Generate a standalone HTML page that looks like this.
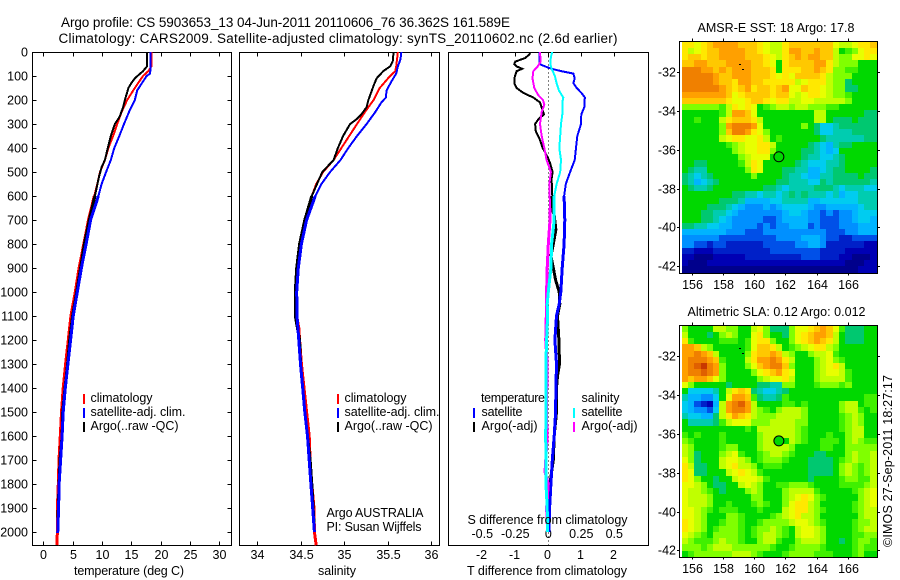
<!DOCTYPE html>
<html lang="en">
<head>
<meta charset="utf-8">
<title>Argo profile CS 5903653_13</title>
<style>
html,body{margin:0;padding:0;background:#fff;}
svg{display:block;}
text{font-family:"Liberation Sans",sans-serif;font-size:12.5px;fill:#000;}
.crisp{shape-rendering:crispEdges;}
</style>
</head>
<body>
<svg id="chart" xmlns="http://www.w3.org/2000/svg" width="900" height="580" viewBox="0 0 900 580"></svg>
<script>
// ---------- profile data (depth in dbar) ----------
const tempClimDepth = [0,60,80,100,150,200,250,300,350,400,450,500,550,600,700,800,900,1000,1100,1200,1300,1400,1500,1600,1700,1800,1900,2000,2055];
const tempClim = [18.47,18.4,17.9,17.0,15.6,14.3,13.35,12.6,11.9,11.1,10.5,9.66,9.2,8.7,7.7,6.9,6.1,5.45,4.7,4.26,3.8,3.4,3.1,2.9,2.67,2.56,2.4,2.4,2.3];
const tempSatDepth = [0,60,90,100,130,160,200,250,300,350,400,450,500,550,600,700,800,900,1000,1100,1200,1300,1400,1500,1600,1700,1800,1900,2005];
const tempSat = [18.3,18.3,18.2,17.6,16.8,16.0,15.6,14.6,13.75,12.95,12.1,11.5,10.7,9.94,9.4,8.07,7.3,6.5,5.8,5.1,4.66,4.2,3.75,3.4,3.2,2.95,2.7,2.6,2.45];
const tempArgoDepth = [0,60,80,90,110,130,150,200,230,270,300,350,400,450,480,520,600,700,800,900,1000,1100,1200,1300,1400,1500,1600,1700,1800,1900,1960];
const tempArgo = [17.7,17.67,17.0,16.5,15.6,15.0,14.5,13.9,13.6,13.0,12.2,11.5,11.0,10.5,9.94,9.5,8.8,7.84,7.0,6.36,5.7,5.0,4.5,4.15,3.7,3.3,3.2,2.84,2.7,2.56,2.5];

const salClimDepth = [0,60,80,100,150,200,250,300,350,400,450,500,550,600,700,800,900,1000,1100,1150,1200,1300,1400,1500,1600,1700,1800,1900,2000,2055];
const salClim = [35.62,35.6,35.59,35.53,35.41,35.34,35.24,35.15,35.06,34.97,34.88,34.76,34.68,34.63,34.55,34.5,34.47,34.45,34.456,34.48,34.49,34.51,34.54,34.57,34.6,34.61,34.63,34.655,34.66,34.68];
const salSatDepth = [0,30,60,90,120,160,190,210,250,300,350,400,450,500,550,600,700,800,900,1000,1100,1200,1300,1400,1500,1600,1700,1800,1900,2000];
const salSat = [35.66,35.65,35.62,35.6,35.55,35.49,35.48,35.43,35.36,35.26,35.15,35.05,34.96,34.84,34.74,34.67,34.57,34.51,34.475,34.456,34.46,34.48,34.5,34.525,34.55,34.58,34.6,34.62,34.64,34.66];
const salArgoDepth = [0,40,60,80,110,140,200,230,260,280,300,350,400,450,500,550,600,700,800,900,1000,1100,1200,1300,1400,1500,1600,1700,1800,1900,1960];
const salArgo = [35.57,35.56,35.53,35.45,35.375,35.34,35.28,35.26,35.2,35.145,35.07,34.99,34.93,34.88,34.75,34.69,34.63,34.55,34.49,34.456,34.44,34.44,34.49,34.5,34.525,34.55,34.58,34.61,34.63,34.645,34.655];

const dTSatDepth = [0,50,60,70,80,90,110,130,150,170,190,210,230,260,300,350,400,450,500,550,600,700,800,900,1000,1050,1100,1200,1300,1400,1500,1600,1700,1800,1900,2000];
const dTSat = [-0.27,-0.27,-0.1,0.1,0.4,0.76,0.8,0.76,0.86,1.0,1.11,1.09,1.09,1.0,0.99,0.88,0.84,0.8,0.66,0.53,0.48,0.5,0.48,0.42,0.38,0.33,0.25,0.2,0.25,0.23,0.22,0.18,0.12,0.08,0.04,0.02];
const dTArgoDepth = [0,10,25,40,50,60,70,80,110,130,150,170,190,210,240,260,280,300,330,360,400,430,460,500,530,600,640,680,740,800,850,900,950,1000,1050,1100,1150,1200,1300,1350,1400,1500,1600,1700,1750,1800,1900,1950];
const dTArgo = [-0.55,-0.57,-0.7,-1.0,-1.03,-0.96,-0.79,-0.96,-1.03,-1.03,-0.96,-0.76,-0.45,-0.25,-0.18,-0.13,-0.3,-0.4,-0.38,-0.27,-0.17,-0.05,0.05,0.13,0.1,0.12,0.08,0.18,0.23,0.15,0.08,0.15,0.22,0.33,0.35,0.28,0.3,0.32,0.34,0.28,0.25,0.25,0.18,0.15,0.1,0.05,0.04,0.02];
const dSSatDepth = [0,20,50,70,100,130,160,190,210,260,300,350,400,450,500,550,600,700,800,900,1000,1050,1100,1200,1300,1400,1500,1600,1700,1800,1850,1900,2000];
const dSSat = [0.03,0.02,0.015,0.025,0.05,0.063,0.08,0.114,0.106,0.106,0.096,0.09,0.083,0.096,0.09,0.063,0.045,0.045,0.025,0.02,0,-0.008,-0.005,-0.013,-0.018,-0.018,-0.018,-0.02,-0.018,-0.018,-0.013,-0.008,-0.005];
const dSArgoDepth = [0,40,60,80,110,150,180,200,220,250,300,350,400,450,500,550,650,700,800,900,1000,1050,1200,1300,1500,1600,1750,1800,1900,2000];
const dSArgo = [-0.063,-0.058,-0.08,-0.114,-0.12,-0.106,-0.076,-0.04,-0.03,-0.05,-0.063,-0.05,-0.03,-0.013,0.02,0.008,0.013,0.013,0,-0.008,-0.013,-0.013,-0.02,-0.008,-0.015,-0.008,-0.025,0,-0.013,-0.005];

// ---------- tick labels ----------
const depthTicks = [0,100,200,300,400,500,600,700,800,900,1000,1100,1200,1300,1400,1500,1600,1700,1800,1900,2000];
const tempTicks = [0,5,10,15,20,25,30];
const salTicks = [34,34.5,35,35.5,36];
const dTTicks = [-2,-1,0,1,2];
const dSTicks = [-0.5,-0.25,0,0.25,0.5];
const lonTicks = [156,158,160,162,164,166];
const latTicks = [-32,-34,-36,-38,-40,-42];

// ---------- map cells: one char per cell, index into the colour scale ----------
const levelColors = {
  '0':'#00008c','1':'#0000b4','2':'#0020c8','3':'#0050e8','4':'#0090ff','5':'#00b4ff','6':'#00ccf0',
  '7':'#00ccb0','8':'#00c870','9':'#00d800','a':'#40f000','b':'#80ff00','c':'#c0ff00','d':'#e8ff00',
  'e':'#ffe800','f':'#ffc800','g':'#ffa000','h':'#f08000','i':'#e06000','j':'#c83800'
};
const sstRows = [
"eedef ggggf ffedc cefff ffffd ccdee f",
"ecdef fgggg ffedc ceggf fgffc 9abde e",
"effef fgggg fffed cefgf ggffc bbdde d",
"ffggf ffggg gffed 9efff fggec bbb99 9",
"hhhgg fgfgg gfffe 9eeef fgfeb baa99 9",
"hhhhh gffgg gfffe dedff ffecb bb999 9",
"hhhhh gffeg gffee eeecd eeecb b8999 9",
"hhhhh hgfef geffe fgddf eedcb b8899 9",
"ggggg ggfde ffffe ffdcd eedcb ba999 9",
"fffff ffedd effed eeccd dcccc cb999 9",
"bbbbb baced ed9ab ccbcc bbbaa 99999 9",
"99999 9acgg fd999 99999 9cc99 99998 8",
"99a99 9ceff fec99 99999 9cc98 88988 8",
"99999 9bghh hgd99 9999b 98667 88888 8",
"99999 9bfhh gedb9 99999 98667 77888 8",
"99999 9cdee ddec9 a9999 99877 77778 8",
"99999 99abc ddeec 99999 87657 88999 9",
"99999 999bc ddeeb 99998 87656 99999 9",
"99999 9999b cddd9 99998 77667 89999 9",
"99889 9999a ced99 99987 66677 89999 9",
"98779 99999 bed99 98877 55678 89999 8",
"87678 99999 9b999 98776 55778 88898 8",
"87567 89999 99999 88777 66878 88888 7",
"98778 99999 99988 76777 78887 67776 6",
"99999 99988 77677 67878 77767 56677 7",
"99999 98887 55556 67777 55666 66677 7",
"99998 88765 44454 56666 54455 55567 7",
"99988 77654 44444 45665 44343 44566 6",
"99988 76544 44433 45555 44333 44566 5",
"88776 65544 44343 44555 34333 44455 5",
"55555 55444 33344 44444 44433 34455 5",
"44444 43333 33333 44445 55433 22333 3",
"44332 33222 22233 33344 55422 22221 1",
"22111 22222 22223 33333 33222 21111 1",
"11000 11111 22222 22223 33222 11000 1",
"10001 11111 11111 11111 11111 10001 1",
"00000 00000 00000 00000 00000 00011 1"
];
const slaRows = [
"b9999 ccbb9 9cdb8 88bdd efgfd a8889 9",
"c9998 9bcb9 9deb9 98bde fggfc 98889 9",
"ea999 9aaa9 adeeb 99bde fgfec 98889 9",
"ggfcb 99999 adffe c9abc deecb 99999 9",
"gghgf c9999 beffg fcb99 bccda 99999 9",
"ghhhg fa999 ceggh gec99 9bcdb a9999 9",
"ghijh gb999 bdfgh hfb99 9bcde c9999 9",
"ghhih gb999 9bdef ged99 9bcdd ca999 9",
"gfggf db999 99bcd dec99 9bccc ca999 9",
"db999 99899 99887 7bb99 9abbb ab999 9",
"96666 79cef e8766 78999 99999 99999 9",
"75544 69dgg fa877 8a999 99999 9999a a",
"65321 5cghi gc999 9aa9a 99999 bcc9a a",
"65443 6cghh gcba9 bcccb 99999 bcca9 a",
"76655 8cegf ecbbb ccccb 99999 abcb9 9",
"97777 8acdd dbbbc cccbb 99999 abcb9 9",
"99999 99999 a9ccc cccba 99999 abcc9 9",
"a9a99 9a999 99bcc cccba 999a9 9bcc9 9",
"ba999 9a999 99bcc c9cba 99aaa 9bcba a",
"cb999 9abb9 99bcc ccb99 99aa9 9bbbb b",
"cb899 9bcda 99abc cba99 98899 9bcbb c",
"db899 9cddc b9abb ba999 88889 abcbb c",
"ec889 9cdec cb9aa a9999 88889 bcbab c",
"ed889 99cde dca99 99999 88889 bcbab c",
"edb99 899cd ddca9 99999 89999 abbaa c",
"ddcb9 8899c dcb99 aabbb a9999 aaaab c",
"dccba 98999 bcb99 9bccc ca999 99abc d",
"dcccb 99999 9bb99 9bcde dba99 999bc d",
"dcccb 99a99 9aba9 9bdee cb999 99abc d",
"ddcba 9aaa9 99a99 9cdee cba99 99abc c",
"ddcb9 99bba 9999a bcdec cb999 999bc c",
"edcb9 9abba 99abb bbcdd cba99 99abb c",
"edcb9 abbba 9abbc ba9cd dcb99 99abc c",
"dcba9 bbbba 9abcc ba9cd dcb99 99aab b",
"cbaaa bcbba 99bcc a99bc ccb99 89abb a",
"bbbab cccbb bbbba 99abb bba99 99aba a",
"9abbb bbbcc cba99 9abbb baaa9 99ab9 9"
];
const profileLon = 161.589;
const profileLat = -36.362;
const trackLon = [159.0,159.2];
const trackLat = [-31.55,-31.85];
const mapLonStart = 155.36, mapLonEnd = 167.86, mapLatTop = -30.42, mapLatBottom = -42.34;

// ---------- axis functions ----------
const yDepth = p => 52 + p * 0.24;
const xTemp = v => 43.3 + v * 5.867;
const xSal = v => 257 + (v - 34) * 87;
const xDT = v => 548.3 + v * 33;
const xDS = v => 548.3 + v * 132;
const lonX = v => 691.7 + (v - 156) * 15.6;
const latY1 = v => 72.3 + (-32 - v) * 19.37;
const latY2 = v => 356.3 + (-32 - v) * 19.4;

// ---------- drawing helpers ----------
const NS = 'http://www.w3.org/2000/svg';
const svg = document.getElementById('chart');
const deepFrom = 600;
function mk(tag, parent, name) {
  const el = document.createElementNS(NS, tag);
  
  
  parent.appendChild(el);
  return el;
}
function group(name, parent) { return mk('g', parent || svg, name); }
function txt(parent, name, s, x, y, anchor, len) {
  const t = mk('text', parent, name);
  t.setAttribute('x', x);
  t.setAttribute('y', y);
  if (anchor) t.setAttribute('text-anchor', anchor);
  if (len) { t.setAttribute('textLength', len); t.setAttribute('lengthAdjust', 'spacing'); }
  t.textContent = s;
  return t;
}
function seg(parent, name, x1, y1, x2, y2, color, w) {
  const l = mk('line', parent, name);
  l.setAttribute('x1', x1); l.setAttribute('y1', y1);
  l.setAttribute('x2', x2); l.setAttribute('y2', y2);
  l.setAttribute('stroke', color || '#000');
  l.setAttribute('stroke-width', w || 1);
  l.setAttribute('class', 'crisp');
  return l;
}
function frame(parent, name, x, y, w, h) {
  const r = mk('rect', parent, name);
  r.setAttribute('x', x); r.setAttribute('y', y);
  r.setAttribute('width', w); r.setAttribute('height', h);
  r.setAttribute('fill', 'none');
  r.setAttribute('stroke', '#000');
  r.setAttribute('stroke-width', 1);
  r.setAttribute('class', 'crisp');
}
function polyFrom(parent, name, pts, color, w) {
  const pl = mk('polyline', parent, name);
  pl.setAttribute('points', pts.join(' '));
  pl.setAttribute('fill', 'none');
  pl.setAttribute('stroke', color);
  pl.setAttribute('stroke-width', w);
  pl.setAttribute('stroke-linejoin', 'miter');
  pl.setAttribute('class', 'crisp');
}
function profile(parent, name, depths, values, xFn, color) {
  const pts = depths.map((d, i) => xFn(values[i]).toFixed(1) + ',' + yDepth(d).toFixed(1));
  polyFrom(parent, name, pts, color, 2);
  // deep stretches are near-vertical staircases in the source, so they read thicker
  polyFrom(parent, name + '-deep', pts.filter((p, i) => depths[i] >= deepFrom), color, 3);
}
function legendRow(parent, name, x, y, color, label, tx, len) {
  const m = mk('rect', parent, name + '-marker');
  m.setAttribute('x', x); m.setAttribute('y', y - 8);
  m.setAttribute('width', 2); m.setAttribute('height', 10);
  m.setAttribute('fill', color);
  m.setAttribute('class', 'crisp');
  txt(parent, name + '-label', label, tx, y, null, len);
}

// ---------- titles ----------
const titles = group('figure-title');
const t1 = txt(titles, 'title-line-1', 'Argo profile: CS 5903653_13 04-Jun-2011 20110606_76 36.362S 161.589E', 61, 27, null, 449);
t1.style.fontSize = '13.5px';
const t2 = txt(titles, 'title-line-2', 'Climatology: CARS2009. Satellite-adjusted climatology: synTS_20110602.nc (2.6d earlier)', 58.5, 43, null, 559);
t2.style.fontSize = '13.5px';

const L = 32.5, T = 52.5, B = 545.5;

// ---------- panel 1: temperature ----------
const p1 = group('temperature-panel');
frame(p1, 'temperature-plot-frame', L, T, 199, B - T);
depthTicks.forEach(d => {
  const y = Math.round(yDepth(d)) + 0.5;
  if (d > 0) {
    seg(p1, 'depth-tick', L, y, L + 4, y);
    seg(p1, 'depth-tick-right', 231.5 - 4, y, 231.5, y);
  }
  txt(p1, 'depth-tick-label', String(d), 28, y + 4, 'end');
});
tempTicks.forEach(v => {
  const x = Math.round(xTemp(v)) + 0.5;
  seg(p1, 'temperature-tick-top', x, T, x, T + 4);
  seg(p1, 'temperature-tick-bottom', x, B - 4, x, B);
  txt(p1, 'temperature-tick-label', String(v), x, 559, 'middle');
});
profile(p1, 'temperature-climatology-line', tempClimDepth, tempClim, xTemp, '#ff0000');
profile(p1, 'temperature-argo-line', tempArgoDepth, tempArgo, xTemp, '#000000');
profile(p1, 'temperature-satellite-line', tempSatDepth, tempSat, xTemp, '#0000ff');
txt(p1, 'temperature-axis-title', 'temperature (deg C)', 74, 575, null, 110);
const leg1 = group('temperature-legend', p1);
legendRow(leg1, 'legend-climatology', 83, 402, '#ff0000', 'climatology', 90.5, 62);
legendRow(leg1, 'legend-satellite-adj', 83, 416, '#0000ff', 'satellite-adj. clim.', 90.5, 95);
legendRow(leg1, 'legend-argo', 83, 430, '#000000', 'Argo(..raw -QC)', 90.5, 88);

// ---------- panel 2: salinity ----------
const p2 = group('salinity-panel');
frame(p2, 'salinity-plot-frame', 239.5, T, 200, B - T);
salTicks.forEach(v => {
  const x = Math.round(xSal(v)) + 0.5;
  seg(p2, 'salinity-tick-top', x, T, x, T + 4);
  seg(p2, 'salinity-tick-bottom', x, B - 4, x, B);
  txt(p2, 'salinity-tick-label', String(v), x, 559, 'middle');
});
profile(p2, 'salinity-climatology-line', salClimDepth, salClim, xSal, '#ff0000');
profile(p2, 'salinity-argo-line', salArgoDepth, salArgo, xSal, '#000000');
profile(p2, 'salinity-satellite-line', salSatDepth, salSat, xSal, '#0000ff');
txt(p2, 'salinity-axis-title', 'salinity', 318, 575, null, 38);
const leg2 = group('salinity-legend', p2);
legendRow(leg2, 'legend-climatology', 337, 402, '#ff0000', 'climatology', 344.5, 62);
legendRow(leg2, 'legend-satellite-adj', 337, 416, '#0000ff', 'satellite-adj. clim.', 344.5, 95);
legendRow(leg2, 'legend-argo', 337, 430, '#000000', 'Argo(..raw -QC)', 344.5, 88);
txt(p2, 'data-centre-label', 'Argo AUSTRALIA', 326.5, 517, null, 97);
txt(p2, 'principal-investigator-label', 'PI: Susan Wijffels', 326.5, 531, null, 95);

// ---------- panel 3: differences ----------
const p3 = group('difference-panel');
frame(p3, 'difference-plot-frame', 448.5, T, 200, B - T);
dTTicks.forEach(v => {
  const x = Math.round(xDT(v)) + 0.5;
  seg(p3, 'difference-tick-top', x, T, x, T + 4);
  txt(p3, 'temperature-difference-tick-label', String(v), x - 1, 559, 'middle');
});
dSTicks.forEach(v => {
  const x = xDS(v);
  txt(p3, 'salinity-difference-tick-label', String(v), x, 538, 'middle');
});
const zero = seg(p3, 'zero-difference-line', 548.5, T, 548.5, B, '#000', 1);
zero.setAttribute('stroke-dasharray', '1 3');
profile(p3, 'temperature-argo-difference-line', dTArgoDepth, dTArgo, xDT, '#000000');
profile(p3, 'temperature-satellite-difference-line', dTSatDepth, dTSat, xDT, '#0000ff');
profile(p3, 'salinity-argo-difference-line', dSArgoDepth, dSArgo, xDS, '#ff00ff');
profile(p3, 'salinity-satellite-difference-line', dSSatDepth, dSSat, xDS, '#00ffff');
const leg3 = group('difference-legend', p3);
txt(leg3, 'legend-temperature-heading', 'temperature', 481, 402, null, 64);
legendRow(leg3, 'legend-temperature-satellite', 473, 416, '#0000ff', 'satellite', 481.5, 41);
legendRow(leg3, 'legend-temperature-argo', 473, 430, '#000000', 'Argo(-adj)', 481.5, 56);
txt(leg3, 'legend-salinity-heading', 'salinity', 581.5, 402, null, 38);
legendRow(leg3, 'legend-salinity-satellite', 573, 416, '#00ffff', 'satellite', 581.5, 41);
legendRow(leg3, 'legend-salinity-argo', 573, 430, '#ff00ff', 'Argo(-adj)', 581.5, 56);
txt(p3, 'salinity-difference-axis-title', 'S difference from climatology', 467.5, 524, null, 160);
txt(p3, 'temperature-difference-axis-title', 'T difference from climatology', 467, 575, null, 160);

// ---------- maps ----------
function drawMap(name, rows, latY, frameTop, frameBottom, labelY, title, titleX, titleY, titleLen, circleFill) {
  const g = group(name);
  txt(g, name + '-title', title, titleX, titleY, null, titleLen);
  const cells = group(name + '-cells', g);
  const clean = rows.map(r => r.replace(/ /g, ''));
  const nr = clean.length;
  clean.forEach((row, j) => {
    const nc = row.length;
    for (let i = 0; i < nc; i++) {
      const x0 = Math.round(lonX(mapLonStart + (mapLonEnd - mapLonStart) * i / nc));
      const x1 = Math.round(lonX(mapLonStart + (mapLonEnd - mapLonStart) * (i + 1) / nc));
      const y0 = Math.round(latY(mapLatTop + (mapLatBottom - mapLatTop) * j / nr));
      const y1 = Math.round(latY(mapLatTop + (mapLatBottom - mapLatTop) * (j + 1) / nr));
      const c = mk('rect', cells, name + '-cell');
      c.setAttribute('x', x0); c.setAttribute('y', y0);
      c.setAttribute('width', x1 - x0); c.setAttribute('height', y1 - y0);
      c.setAttribute('fill', levelColors[row[i]]);
      c.setAttribute('class', 'crisp');
    }
  });
  frame(g, name + '-frame', 679.5, frameTop, 198, frameBottom - frameTop);
  lonTicks.forEach(v => {
    const x = Math.round(lonX(v)) + 0.5;
    seg(g, name + '-lon-tick-top', x, frameTop - 3, x, frameTop);
    seg(g, name + '-lon-tick-bottom', x, frameBottom, x, frameBottom + 2);
    txt(g, name + '-lon-label', String(v), x, labelY, 'middle');
  });
  latTicks.forEach(v => {
    const y = Math.round(latY(v)) + 0.5;
    seg(g, name + '-lat-tick-left', 677, y, 679.5, y);
    seg(g, name + '-lat-tick-right', 877.5, y, 880, y);
    txt(g, name + '-lat-label', String(v), 676, y + 4, 'end');
  });
  trackLon.forEach((lon, i) => {
    const d = mk('rect', g, name + '-track-point');
    d.setAttribute('x', Math.round(lonX(lon)));
    d.setAttribute('y', Math.round(latY(trackLat[i])));
    d.setAttribute('width', 2); d.setAttribute('height', 1);
    d.setAttribute('fill', '#000');
    d.setAttribute('class', 'crisp');
  });
  const c = mk('circle', g, name + '-profile-marker');
  c.setAttribute('cx', lonX(profileLon));
  c.setAttribute('cy', latY(profileLat));
  c.setAttribute('r', 5);
  c.setAttribute('fill', circleFill);
  c.setAttribute('stroke', '#000');
  c.setAttribute('stroke-width', 1);
}
drawMap('sst-map', sstRows, latY1, 41.5, 273.5, 289, 'AMSR-E SST: 18 Argo: 17.8', 697.5, 32, 157, 'none');
drawMap('sla-map', slaRows, latY2, 325.5, 557.5, 573, 'Altimetric SLA: 0.12 Argo: 0.012', 687.5, 316, 178, '#00d800');

const stamp = txt(svg, 'imos-timestamp', '\u00A9IMOS 27-Sep-2011 18:27:17', 0, 0, null, 172);
stamp.setAttribute('transform', 'translate(892,547) rotate(-90)');
</script>
</body>
</html>
